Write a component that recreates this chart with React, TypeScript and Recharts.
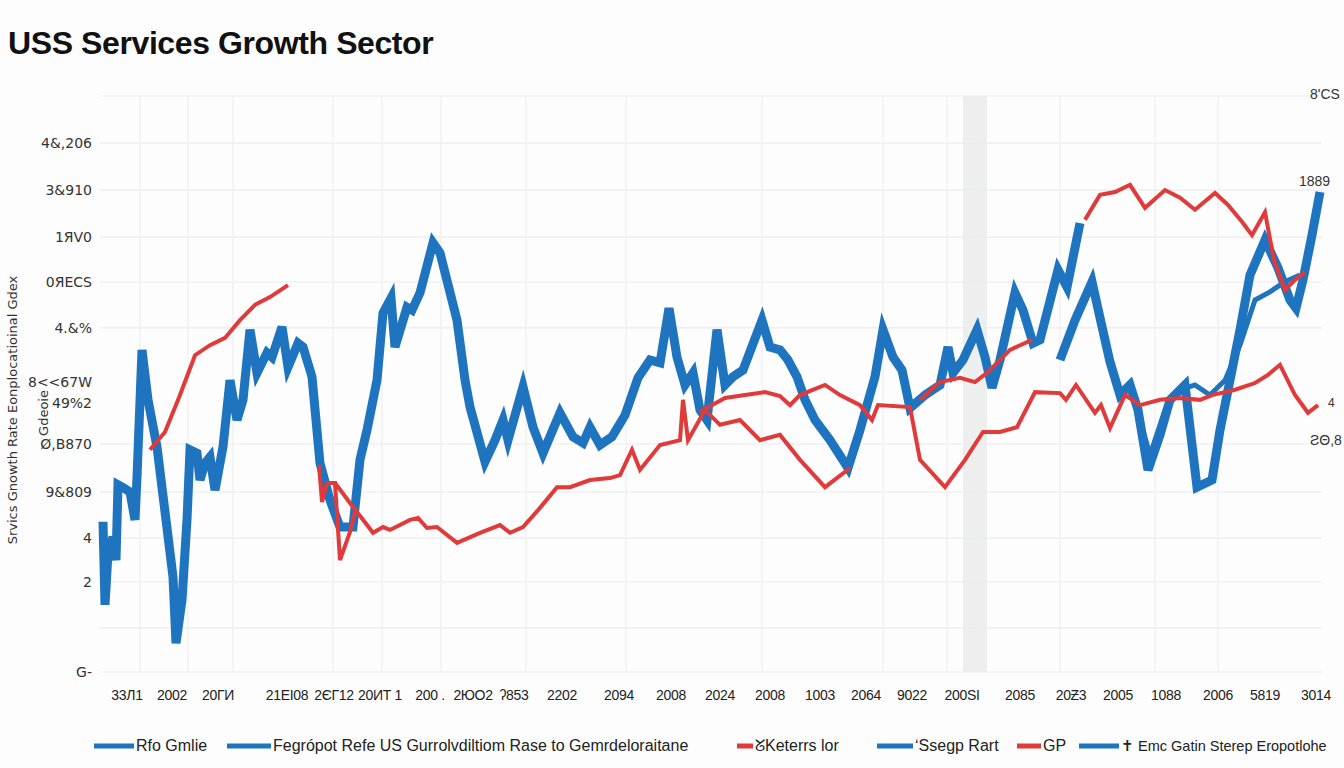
import { LineChart, Line, XAxis, YAxis, ReferenceLine, ReferenceArea } from "recharts";

// tick labels, read as printed
const xTicks = [2.7, 7.2, 11.8, 18.7, 23.4, 28, 33, 37.3, 41.4, 46.2, 51.9, 57.1, 62, 67, 72, 76.6, 81.2, 86.2, 92, 97.1, 101.8, 106.6, 111.8, 116.5, 121.6];
const xLabels = ["33Л1", "2002", "20ГИ", "21EI08", "2ЄГ12", "20ИТ 1", "200 .", "2ЮО2", "ʔ853", "2202", "2094", "2008", "2024", "2008", "1003", "2064", "9022", "200SI", "2085", "20Ƶ3", "2005", "1088", "2006", "5819", "3014"];

const yTicks = [0, 18.75, 27.9, 37.5, 47.5, 56, 60.4, 71.7, 81.25, 90.6, 100.4, 110.2];
const yLabels = ["G-", "2", "4", "9&809", "Ø,B870", "49%2", "8<<67W", "4.&%", "0ЯЕCS", "1ЯV0", "3&910", "4&,206"];

const gridX = [4, 8.8, 13.3, 23.3, 28.2, 34.1, 42.6, 52.6, 66.2, 78.3, 84.7, 87.8, 96, 105.5, 111.8];
const gridY = [0, 9.2, 18.75, 27.9, 37.5, 47.5, 71.7, 81.25, 90.6, 100.4, 110.2, 120];

// series: [period, value], null = break in the line
const blueMain = [
  [0.3, 31.3], [0.5, 14.0], [0.8, 24.8], [1.3, 28.1], [1.6, 23.3], [1.8, 39.0], [2.4, 38.3], [3.0, 37.5], [3.5, 31.7], [3.7, 40.6],
  [4.2, 67.1], [4.8, 56.7], [5.7, 46.9], [6.6, 31.7], [7.3, 19.8], [7.6, 6.0], [8.2, 15.0], [8.7, 31.7], [9.0, 46.3], [9.7, 45.6],
  [10.0, 40.0], [10.5, 43.5], [11.0, 44.8], [11.5, 37.9], [12.3, 46.9], [13.0, 60.8], [13.7, 52.5], [14.3, 56.7], [15.0, 71.3], [15.7, 62.3],
  [16.7, 66.5], [17.2, 65.6], [18.2, 71.9], [18.8, 63.5], [19.8, 68.5], [20.3, 67.7], [21.2, 61.5], [22.0, 43.5], [23.0, 35.8], [24.0, 30.2],
  [25.3, 30.2], [26.0, 44.2], [26.7, 50.4], [27.7, 60.8], [28.3, 74.8], [29.1, 77.9], [29.5, 67.7], [30.7, 76.0], [31.2, 75.4], [32.0, 79.0],
  [33.3, 89.4], [34.0, 87.3], [35.7, 73.3], [36.5, 60.8], [37.0, 55.2], [38.5, 43.8], [39.5, 48.3], [40.3, 52.5], [40.8, 48.3], [42.3, 59.4],
  [43.3, 51.0], [44.3, 45.6], [46.0, 54.0], [47.3, 49.0], [48.3, 47.7], [49.0, 51.0], [50.0, 47.3], [51.2, 49.0], [52.5, 53.5], [53.8, 61.3],
  [55.0, 65.0], [56.0, 64.4], [56.9, 75.8], [57.7, 65.6], [58.5, 59.8], [59.3, 62.3], [60.0, 54.6], [60.7, 52.5], [61.7, 71.3], [62.5, 59.8],
  [63.3, 61.5], [64.3, 62.9], [66.2, 73.3], [67.0, 67.7], [68.0, 67.1], [68.8, 65.0], [69.7, 61.5], [70.5, 56.7], [71.5, 52.5], [73.0, 48.3],
  [74.8, 42.5], [76.0, 50.4], [77.5, 61.5], [78.3, 71.3], [79.3, 65.6], [80.2, 62.9], [81.0, 55.0], [82.5, 57.7], [84.0, 59.8], [84.8, 67.7],
  [85.3, 62.3], [86.3, 65.0], [87.7, 71.3], [88.5, 65.6], [89.2, 59.2], [90.0, 65.0], [91.5, 79.0], [92.3, 75.4], [93.3, 68.5], [94.0, 69.2],
  [95.8, 83.8], [96.7, 80.2], [98.0, 93.5],
];

const blueRight = [
  [96.0, 65.0], [97.5, 73.3], [99.2, 81.3], [100.0, 73.8], [101.0, 64.6], [102.0, 57.7], [103.0, 59.8], [103.8, 54.6], [104.8, 42.1], [106.0, 49.4],
  [107.0, 56.7], [108.5, 59.8], [109.7, 38.5], [111.2, 40.0], [112.0, 50.4], [113.0, 60.8], [114.0, 71.3], [115.0, 82.7], [116.5, 90.0], [117.8, 84.2],
  [119.0, 77.5], [119.6, 75.8], [120.3, 81.7], [121.2, 91.0], [122.0, 100.0],
];

const blueThin = [
  [104.0, 52.5], [105.0, 45.2], [106.5, 54.6], [108.0, 58.8], [109.5, 59.8], [111.0, 57.7], [112.5, 60.8], [114.0, 68.1], [115.5, 77.5], [117.0, 79.2],
  [118.5, 81.3], [120.0, 82.7],
];

const redEarly = [
  [5.0, 46.3], [6.5, 50.0], [8.0, 57.7], [9.5, 66.0], [11.0, 68.1], [12.5, 69.6], [14.0, 73.3], [15.5, 76.5], [17.0, 78.1], [18.8, 80.6],
  [20.0, null],
  [21.9, 43.1], [22.2, 35.4], [22.7, 39.4], [23.5, 39.4], [24.0, 23.3], [25.0, 29.2], [25.6, 34.2],
];

const redLow = [
  [23.5, 39.4], [25.0, 35.2], [26.3, 31.7], [27.3, 29.0], [28.3, 30.2], [29.0, 29.6], [31.0, 31.7], [31.8, 32.1], [32.7, 30.0], [33.7, 30.2],
  [35.7, 26.9], [38.0, 29.0], [40.0, 30.6], [41.0, 29.0], [42.3, 30.2], [44.0, 34.2], [45.7, 38.5], [47.0, 38.5], [49.0, 40.0], [51.0, 40.4],
  [52.0, 41.0], [53.2, 46.3], [54.0, 42.1], [56.0, 47.3], [58.0, 48.3], [58.3, 56.7], [58.8, 48.3], [60.5, 54.6], [62.0, 51.5], [64.0, 52.5],
  [66.0, 48.3], [68.0, 49.4], [70.0, 44.2], [72.5, 38.5], [75.0, 42.5],
];

const redMid = [
  [60.0, 54.2], [62.5, 57.1], [64.5, 57.7], [66.5, 58.3], [68.0, 57.5], [69.0, 55.6], [70.0, 57.7], [72.5, 59.8], [74.0, 57.7], [76.0, 55.6],
  [77.2, 52.5], [77.8, 55.6], [81.0, 55.2], [82.0, 44.2], [84.5, 38.5], [86.5, 44.2], [88.3, 50.0], [90.0, 50.0], [91.7, 51.0], [93.5, 58.3],
  [96.0, 58.1], [96.6, 56.7], [97.6, 59.8], [99.5, 54.0], [100.1, 55.6], [101.0, 50.8], [102.5, 57.7], [104.0, 55.6], [106.0, 56.7], [108.0, 57.1],
  [110.0, 56.7], [111.2, 57.7], [113.5, 58.8], [115.5, 60.2], [116.8, 61.9], [118.0, 64.0], [119.5, 57.7], [120.8, 54.0], [121.8, 55.6],
];

const redHigh = [
  [82.0, 56.7], [84.0, 60.4], [86.0, 61.3], [87.5, 60.4], [88.8, 62.5], [91.0, 67.1], [93.2, 69.2],
  [95.0, null],
  [98.5, 94.2], [100.0, 99.4], [101.5, 100.0], [103.0, 101.5], [104.5, 96.7], [106.5, 100.4], [108.0, 98.8], [109.5, 96.3], [111.5, 99.8], [112.8, 97.3],
  [114.2, 93.8], [115.2, 91.0], [116.5, 95.8], [117.4, 85.8], [118.5, 79.6], [119.5, 81.7], [120.5, 83.3],
];

const legendItems = [
  { name: "Rfo Gmlie", color: "#1f74c0" },
  { name: "Fegrópot Refe US Gurrolvdiltiom Rase to Gemrdeloraitane", color: "#1f74c0" },
  { name: "ᘜKeterrs lor", color: "#e03a3a" },
  { name: "ʻSsegp Rart", color: "#1f74c0" },
  { name: "GP", color: "#e03a3a" },
  { name: "✝ Emc Gatin Sterep Eropotlohe", color: "#1f74c0" },
];
const legendX = [94, 227, 737, 877, 1017, 1079];
const swatchW = [40, 44, 16, 36, 24, 40];
const legendFont = [16, 16, 16, 16, 16, 14.5];

const BLUE = "#1f74c0";
const RED = "#e03a3a";
const toPts = (arr: (number | null)[][]) => arr.map(([x, y]) => ({ x, y }));

const fontUI = "'Liberation Sans', Arial, sans-serif";

export default function App() {
  return (
    <div style={{ position: "fixed", left: 0, top: 0, width: 1344, height: 768, background: "#fdfdfd", fontFamily: fontUI, overflow: "hidden" }}>
      <div style={{ position: "absolute", left: 8, top: 25, fontSize: 32, fontWeight: 700, color: "#111", letterSpacing: -0.4 }}>
        USS Services Growth Sector
      </div>

      <LineChart width={1344} height={768} margin={{ top: 96, right: 22, bottom: 66, left: 0 }}>
        <XAxis
          dataKey="x"
          type="number"
          domain={[0, 122.2]}
          ticks={xTicks}
          interval={0}
          tickFormatter={(v: number) => xLabels[xTicks.indexOf(v)] ?? ""}
          axisLine={false}
          tickLine={false}
          tickMargin={12}
          height={30}
          tick={{ fontSize: 14, fill: "#222", fontFamily: fontUI, letterSpacing: -0.3 }}
        />
        <YAxis
          type="number"
          domain={[0, 120]}
          ticks={yTicks}
          interval={0}
          tickFormatter={(v: number) => yLabels[yTicks.indexOf(v)] ?? ""}
          axisLine={false}
          tickLine={false}
          tickMargin={2}
          width={100}
          tick={{ fontSize: 14, fill: "#333", fontFamily: "'DejaVu Sans', sans-serif" }}
        />
        {gridY.map((v) => (
          <ReferenceLine key={"gy" + v} y={v} stroke="#ebebeb" strokeWidth={1.2} />
        ))}
        {gridX.map((v) => (
          <ReferenceLine key={"gx" + v} x={v} stroke="#efefef" strokeWidth={1.2} />
        ))}
        <ReferenceArea x1={86.3} x2={88.7} y1={0} y2={120} fill="#e9ebeb" fillOpacity={0.8} stroke="none" />

        <Line data={toPts(blueMain)} dataKey="y" stroke={BLUE} strokeWidth={9} dot={false} activeDot={false} isAnimationActive={false} />
        <Line data={toPts(blueRight)} dataKey="y" stroke={BLUE} strokeWidth={9} dot={false} activeDot={false} isAnimationActive={false} />
        <Line data={toPts(blueThin)} dataKey="y" stroke={BLUE} strokeWidth={5} dot={false} activeDot={false} isAnimationActive={false} />
        <Line data={toPts(redEarly)} dataKey="y" stroke={RED} strokeWidth={4} dot={false} activeDot={false} isAnimationActive={false} />
        <Line data={toPts(redLow)} dataKey="y" stroke={RED} strokeWidth={4} dot={false} activeDot={false} isAnimationActive={false} />
        <Line data={toPts(redMid)} dataKey="y" stroke={RED} strokeWidth={4} dot={false} activeDot={false} isAnimationActive={false} />
        <Line data={toPts(redHigh)} dataKey="y" stroke={RED} strokeWidth={4} dot={false} activeDot={false} isAnimationActive={false} />
      </LineChart>

      {/* rotated axis captions */}
      <div style={{ position: "absolute", left: 12, top: 410, transform: "translate(-50%, -50%) rotate(-90deg)", fontSize: 13, color: "#333", whiteSpace: "nowrap", fontFamily: "'DejaVu Sans', sans-serif" }}>
        Srvics Gnowth Rate Eonplocatioinal Gdex
      </div>
      <div style={{ position: "absolute", left: 43, top: 413, transform: "translate(-50%, -50%) rotate(-90deg)", fontSize: 13, color: "#333", whiteSpace: "nowrap", fontFamily: "'DejaVu Sans', sans-serif" }}>
        Gdeoie
      </div>

      {/* right side value notes */}
      <div style={{ position: "absolute", left: 1310, top: 86, fontSize: 14, color: "#333" }}>8'CS</div>
      <div style={{ position: "absolute", left: 1299, top: 173, fontSize: 14, color: "#333" }}>1889</div>
      <div style={{ position: "absolute", left: 1328, top: 396, fontSize: 12, color: "#333" }}>4</div>
      <div style={{ position: "absolute", left: 1310, top: 432, fontSize: 14, color: "#333" }}>ƧΘ,8</div>

      {legendItems.map((item, i) => (
        <div key={item.name} style={{ position: "absolute", left: legendX[i], top: 736, display: "flex", alignItems: "center", fontSize: legendFont[i], color: "#222", whiteSpace: "nowrap" }}>
          <svg width={swatchW[i] + 2} height={20}>
            <line x1={0} y1={10} x2={swatchW[i]} y2={10} stroke={item.color} strokeWidth={5} />
          </svg>
          <span>{item.name}</span>
        </div>
      ))}
    </div>
  );
}
